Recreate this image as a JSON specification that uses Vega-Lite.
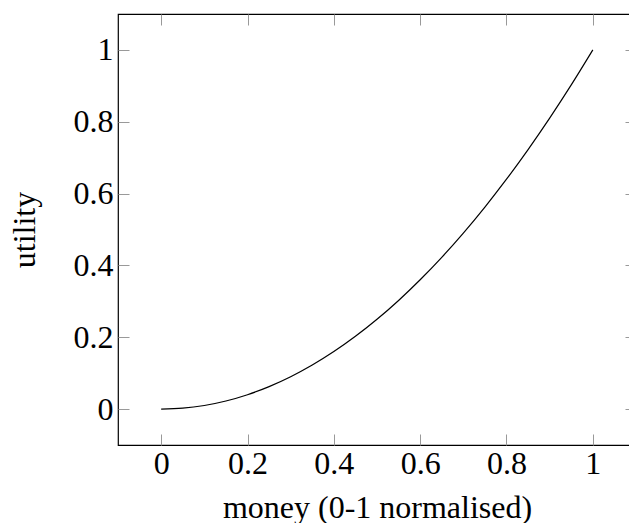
{
  "$schema": "https://vega.github.io/schema/vega-lite/v6.json",
  "autosize": "none",
  "padding": {"left": 118, "top": 14, "right": 0, "bottom": 78},
  "width": 518,
  "height": 431,
  "background": "white",
  "config": {
    "view": {"stroke": "black", "strokeWidth": 1.2},
    "axis": {
      "grid": false,
      "labelFont": "Liberation Serif",
      "titleFont": "Liberation Serif",
      "labelFontSize": 32,
      "titleFontSize": 32,
      "labelColor": "black",
      "titleColor": "black",
      "titleFontWeight": "normal",
      "domain": false,
      "tickColor": "#999999",
      "tickWidth": 1,
      "tickSize": -11
    }
  },
  "data": {
    "values": [
      {"money": 0, "utility": 0},
      {"money": 0.05, "utility": 0.0025},
      {"money": 0.1, "utility": 0.01},
      {"money": 0.15, "utility": 0.0225},
      {"money": 0.2, "utility": 0.04},
      {"money": 0.25, "utility": 0.0625},
      {"money": 0.3, "utility": 0.09},
      {"money": 0.35, "utility": 0.1225},
      {"money": 0.4, "utility": 0.16},
      {"money": 0.45, "utility": 0.2025},
      {"money": 0.5, "utility": 0.25},
      {"money": 0.55, "utility": 0.3025},
      {"money": 0.6, "utility": 0.36},
      {"money": 0.65, "utility": 0.4225},
      {"money": 0.7, "utility": 0.49},
      {"money": 0.75, "utility": 0.5625},
      {"money": 0.8, "utility": 0.64},
      {"money": 0.85, "utility": 0.7225},
      {"money": 0.9, "utility": 0.81},
      {"money": 0.95, "utility": 0.9025},
      {"money": 1, "utility": 1}
    ]
  },
  "layer": [
    {
      "mark": {"type": "line", "color": "black", "strokeWidth": 1.2, "interpolate": "monotone"},
      "encoding": {
        "x": {
          "field": "money", "type": "quantitative",
          "scale": {"domain": [-0.1, 1.1], "nice": false, "zero": false},
          "axis": {
            "orient": "bottom",
            "values": [0, 0.2, 0.4, 0.6, 0.8, 1],
            "format": "~g",
            "labelPadding": 14,
            "title": "money (0-1 normalised)",
            "titleY": 72,
            "titleBaseline": "alphabetic"
          }
        },
        "y": {
          "field": "utility", "type": "quantitative",
          "scale": {"domain": [-0.1, 1.1], "nice": false, "zero": false},
          "axis": {
            "orient": "left",
            "values": [0, 0.2, 0.4, 0.6, 0.8, 1],
            "format": "~g",
            "labelPadding": 16,
            "title": "utility",
            "titleX": -84,
            "titleY": 215.5,
            "titleBaseline": "alphabetic",
            "titleAngle": -90
          }
        }
      }
    },
    {
      "mark": {"type": "point", "opacity": 0},
      "encoding": {
        "x": {
          "field": "money", "type": "quantitative",
          "scale": {"domain": [-0.1, 1.1], "nice": false, "zero": false},
          "axis": {"orient": "top", "values": [0, 0.2, 0.4, 0.6, 0.8, 1], "labels": false, "title": null}
        },
        "y": {
          "field": "utility", "type": "quantitative",
          "scale": {"domain": [-0.1, 1.1], "nice": false, "zero": false},
          "axis": {"orient": "right", "values": [0, 0.2, 0.4, 0.6, 0.8, 1], "labels": false, "title": null}
        }
      }
    }
  ],
  "resolve": {"axis": {"x": "independent", "y": "independent"}}
}
